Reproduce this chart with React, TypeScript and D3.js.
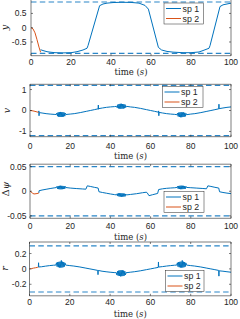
import React from 'react';
import * as d3 from 'd3';

type Pt = [number, number];

const TIME_TICKS = [0, 20, 40, 60, 80, 100];
const SERIES_NAMES = ['sp 1', 'sp 2'];
const COLORS = ['#0072BD', '#D95319'];

// Panel 1: y
const ySp1: Pt[] = [[4.8,-0.77],[6,-0.8],[8,-0.84],[10,-0.86],[12,-0.875],[16,-0.882],[20,-0.875],[23,-0.84],[26,-0.78],[28,-0.72],[28.5,-0.63],[34.3,0.77],[36,0.83],[38,0.86],[41,0.88],[45,0.89],[50,0.885],[54,0.86],[57,0.78],[58.7,0.65],[63.7,-0.69],[65.3,-0.78],[68,-0.83],[71,-0.855],[76,-0.875],[80,-0.875],[84,-0.85],[86,-0.8],[89,-0.72],[89.5,-0.63],[94.5,0.74],[96,0.8],[98,0.83],[100,0.86]];
const ySp2: Pt[] = [[0,0],[1,-0.04],[2,-0.18],[3,-0.42],[4,-0.68],[4.8,-0.86]];
const yBounds = [-0.9, 0.9];
const yTicks = [-0.5, 0, 0.5];

// Panel 2: v
const vSp1: Pt[] = [[4.3,-0.09],[4.4,-0.02],[4.5,-0.25],[4.6,-0.1],[6,-0.12],[8,-0.15],[10,-0.17],[12,-0.185],
[13.1,-0.19],[13.4,-0.12],[13.7,-0.27],[14.0,-0.09],[14.3,-0.3],[14.6,-0.08],[14.9,-0.31],[15.2,-0.07],[15.5,-0.31],[15.8,-0.08],[16.1,-0.3],[16.4,-0.08],[16.7,-0.29],[17.0,-0.1],[17.3,-0.27],[17.6,-0.13],[17.9,-0.19],
[20,-0.17],[22,-0.15],[25,-0.1],[28,-0.04],[30,0],[32,0.04],[33.9,0.08],[34,0.26],[34.1,0.06],[34.2,0.09],[36,0.12],[38,0.15],[40,0.17],[42,0.185],
[43.1,0.2],[43.4,0.13],[43.7,0.28],[44.0,0.1],[44.3,0.31],[44.6,0.09],[44.9,0.32],[45.2,0.08],[45.5,0.32],[45.8,0.09],[46.1,0.31],[46.4,0.09],[46.7,0.3],[47.0,0.11],[47.3,0.28],[47.6,0.14],[47.9,0.2],
[50,0.17],[52,0.15],[55,0.1],[58,0.04],[60,0],[62,-0.04],[63.9,-0.08],[64,-0.02],[64.1,-0.25],[64.2,-0.09],[66,-0.12],[68,-0.15],[70,-0.17],[72,-0.185],
[73.1,-0.2],[73.4,-0.13],[73.7,-0.28],[74.0,-0.1],[74.3,-0.31],[74.6,-0.09],[74.9,-0.32],[75.2,-0.08],[75.5,-0.32],[75.8,-0.09],[76.1,-0.31],[76.4,-0.09],[76.7,-0.3],[77.0,-0.11],[77.3,-0.28],[77.6,-0.14],[77.9,-0.2],
[80,-0.17],[82,-0.15],[85,-0.1],[88,-0.04],[90,0],[92,0.04],[93.9,0.08],[94,0.3],[94.1,0.07],[94.2,0.09],[96,0.12],[98,0.15],[100,0.17]];
const vSp2: Pt[] = [[0,0],[1,-0.01],[2,-0.03],[3,-0.055],[4.3,-0.09]];
const vBounds = [-1.2, 1.2];
const vTicks = [-1, 0, 1];

// Panel 3: delta psi
const dpsiSp1: Pt[] = [[4.4,-0.0035],[4.5,0.001],[6,0.0025],[8,0.004],[10,0.0055],[12,0.0068],
[13.1,0.0075],[13.4,0.0098],[13.7,0.005],[14.0,0.0106],[14.3,0.0043],[14.6,0.011],[14.9,0.004],[15.2,0.0112],[15.5,0.004],[15.8,0.011],[16.1,0.0042],[16.4,0.0108],[16.7,0.0045],[17.0,0.0104],[17.3,0.005],[17.6,0.0097],[17.9,0.0075],
[20,0.0065],[23,0.0055],[26,0.0047],[27.8,0.0042],[28.5,0.011],[30,0.0098],[32,0.008],[33.9,0.0065],[34.3,-0.001],[36,-0.0025],[38,-0.004],[40,-0.0055],[42,-0.0068],
[43.1,-0.0075],[43.4,-0.005],[43.7,-0.0098],[44.0,-0.0043],[44.3,-0.0106],[44.6,-0.004],[44.9,-0.011],[45.2,-0.004],[45.5,-0.0112],[45.8,-0.0042],[46.1,-0.011],[46.4,-0.0045],[46.7,-0.0108],[47.0,-0.005],[47.3,-0.0104],[47.6,-0.0055],[47.9,-0.0075],
[50,-0.0065],[53,-0.005],[56,-0.003],[57.8,-0.002],[58.3,-0.003],[59.2,-0.009],[61,-0.007],[63.5,-0.0045],[64,0.0035],[66,0.005],[68,0.006],[70,0.0066],[72,0.0071],
[73.1,0.0077],[73.4,0.01],[73.7,0.0052],[74.0,0.0108],[74.3,0.0045],[74.6,0.0112],[74.9,0.0042],[75.2,0.0114],[75.5,0.0042],[75.8,0.0112],[76.1,0.0044],[76.4,0.011],[76.7,0.0047],[77.0,0.0106],[77.3,0.0052],[77.6,0.0099],[77.9,0.0077],
[80,0.0072],[83,0.0064],[86,0.0056],[87.8,0.005],[88.5,0.011],[90,0.0098],[92,0.008],[93.9,0.0065],[94.3,-0.001],[96,-0.0025],[98,-0.0038],[100,-0.0048]];
const dpsiSp2: Pt[] = [[0,0],[0.5,-0.001],[1.2,-0.004],[2,-0.0055],[3,-0.005],[4,-0.0042],[4.4,-0.0035]];
const dpsiBounds = [-0.05, 0.05];
const dpsiTicks = [-0.05, 0, 0.05];

// Panel 4: r
const rSp1: Pt[] = [[4.4,0.022],[4.5,0.08],[4.6,0.025],[6,0.028],[8,0.036],[10,0.043],[12,0.048],
[13.1,0.05],[13.4,0.08],[13.7,0.03],[14.0,0.088],[14.3,0.022],[14.6,0.092],[14.9,0.018],[15.2,0.095],[15.5,0.017],[15.8,0.11],[16.1,0.018],[16.4,0.093],[16.7,0.022],[17.0,0.088],[17.3,0.03],[17.6,0.078],[17.9,0.05],
[20,0.043],[22,0.037],[25,0.025],[28,0.01],[30,0],[32,-0.01],[33.9,-0.02],[34,-0.075],[34.1,-0.02],[36,-0.03],[38,-0.037],[40,-0.043],[42,-0.048],
[43.1,-0.05],[43.4,-0.08],[43.7,-0.03],[44.0,-0.088],[44.3,-0.022],[44.6,-0.092],[44.9,-0.018],[45.2,-0.097],[45.5,-0.017],[45.8,-0.095],[46.1,-0.018],[46.4,-0.093],[46.7,-0.022],[47.0,-0.088],[47.3,-0.03],[47.6,-0.078],[47.9,-0.05],
[50,-0.043],[52,-0.037],[55,-0.025],[58,-0.01],[60,0],[62,0.01],[63.9,0.02],[64,0.09],[64.1,0.024],[66,0.03],[68,0.037],[70,0.043],[72,0.048],
[73.1,0.05],[73.4,0.08],[73.7,0.03],[74.0,0.088],[74.3,0.022],[74.6,0.092],[74.9,0.018],[75.2,0.095],[75.5,0.017],[75.8,0.11],[76.1,0.018],[76.4,0.093],[76.7,0.022],[77.0,0.088],[77.3,0.03],[77.6,0.078],[77.9,0.05],
[80,0.043],[82,0.037],[85,0.025],[88,0.01],[90,0],[92,-0.01],[93.9,-0.02],[94,-0.094],[94.1,-0.025],[96,-0.03],[98,-0.037],[100,-0.043]];
const rSp2: Pt[] = [[0,0],[1,0.004],[2,0.01],[3,0.015],[4,0.02],[4.4,0.022]];
const rBounds = [-0.3, 0.3];
const rTicks = [-0.2, 0, 0.2];

const AX = '#262626';
const SANS = '"Liberation Sans", Arial, sans-serif';
const SERIF = '"DejaVu Serif", serif';

interface PanelCfg {
  key: string;
  sp1: Pt[]; sp2: Pt[];
  bounds: number[]; ticks: number[];
  domain: [number, number];
  top: number; bottom: number; left: number; right: number;
  tickLabelY: number; timeY: number;
  ylab: React.ReactNode; ylabX: number; ylabY: number;
  legX: number; legY: number; legW: number;
  drawTop: boolean;
}

const panels: PanelCfg[] = [
  { key: 'y', sp1: ySp1, sp2: ySp2, bounds: yBounds, ticks: yTicks, domain: [-0.98, 0.98],
    top: -0.3, bottom: 55.7, left: 31, right: 231, tickLabelY: 62.3, timeY: 72.5,
    ylab: <tspan fontStyle="italic">y</tspan>, ylabX: 5, ylabY: 27.5,
    legX: 164, legY: 3, legW: 39.5, drawTop: false },
  { key: 'v', sp1: vSp1, sp2: vSp2, bounds: vBounds, ticks: vTicks, domain: [-1.25, 1.25],
    top: 84.3, bottom: 136.7, left: 30, right: 231, tickLabelY: 146, timeY: 156.5,
    ylab: <tspan fontStyle="italic">v</tspan>, ylabX: 6.5, ylabY: 110.5,
    legX: 162.5, legY: 86.5, legW: 40.5, drawTop: true },
  { key: 'dpsi', sp1: dpsiSp1, sp2: dpsiSp2, bounds: dpsiBounds, ticks: dpsiTicks, domain: [-0.055, 0.055],
    top: 164.2, bottom: 218.3, left: 30, right: 231, tickLabelY: 226, timeY: 237,
    ylab: <><tspan>Δ</tspan><tspan fontStyle="italic">ψ</tspan></>, ylabX: 5.5, ylabY: 189,
    legX: 164, legY: 191.5, legW: 40, drawTop: true },
  { key: 'r', sp1: rSp1, sp2: rSp2, bounds: rBounds, ticks: rTicks, domain: [-0.35, 0.35],
    top: 242, bottom: 295.8, left: 29.5, right: 231, tickLabelY: 301.8, timeY: 314.5,
    ylab: <tspan fontStyle="italic">r</tspan>, ylabX: 5, ylabY: 268.5,
    legX: 165.5, legY: 270.5, legW: 38.5, drawTop: true },
];

const fmt = (v: number) => (v === 0 ? '0' : String(v));

function Panel({ p }: { p: PanelCfg }) {
  const x = d3.scaleLinear().domain([0, 100]).range([p.left, p.right]);
  const y = d3.scaleLinear().domain(p.domain).range([p.bottom, p.top]);
  const line = d3.line<Pt>().x(d => x(d[0])).y(d => y(d[1]));
  const tl = 2;
  return (
    <g>
      {p.bounds.map((b, i) => (
        <line key={'b' + i} x1={x(0)} x2={x(100)} y1={y(b)} y2={y(b)}
          stroke="#2a86c8" strokeWidth={1.1} strokeDasharray="5.5,3.3" />
      ))}
      <path d={line(p.sp1) || ''} fill="none" stroke={COLORS[0]} strokeWidth={1} strokeLinejoin="round" />
      <path d={line(p.sp2) || ''} fill="none" stroke={COLORS[1]} strokeWidth={1} strokeLinejoin="round" />
      <line x1={p.left} x2={p.right} y1={p.bottom} y2={p.bottom} stroke={AX} strokeWidth={0.6} />
      <line x1={p.left} x2={p.left} y1={p.top} y2={p.bottom} stroke={AX} strokeWidth={0.6} />
      <line x1={p.right} x2={p.right} y1={p.top} y2={p.bottom} stroke={AX} strokeWidth={0.6} />
      {p.drawTop && <line x1={p.left} x2={p.right} y1={p.top} y2={p.top} stroke={AX} strokeWidth={0.6} />}
      {TIME_TICKS.map(t => (
        <g key={'xt' + t}>
          <line x1={x(t)} x2={x(t)} y1={p.bottom} y2={p.bottom - tl} stroke={AX} strokeWidth={0.6} />
          {p.drawTop && <line x1={x(t)} x2={x(t)} y1={p.top} y2={p.top + tl} stroke={AX} strokeWidth={0.6} />}
          <text x={x(t)} y={p.tickLabelY} dy="0.35em" textAnchor="middle" fontFamily={SANS} fontSize={8.5} fill={AX}>{t}</text>
        </g>
      ))}
      {p.ticks.map(v => (
        <g key={'yt' + v}>
          <line x1={p.left} x2={p.left + tl} y1={y(v)} y2={y(v)} stroke={AX} strokeWidth={0.6} />
          <line x1={p.right} x2={p.right - tl} y1={y(v)} y2={y(v)} stroke={AX} strokeWidth={0.6} />
          <text x={26.5} y={y(v)} dy="0.35em" textAnchor="end" fontFamily={SANS} fontSize={8.5} fill={AX}>{fmt(v)}</text>
        </g>
      ))}
      <text x={(p.left + p.right) / 2} y={p.timeY} dy="0.35em" textAnchor="middle" fontFamily={SERIF} fontSize={8.5} fill={AX}>
        time (<tspan fontStyle="italic">s</tspan>)
      </text>
      <text transform={`translate(${p.ylabX},${p.ylabY}) rotate(-90)`} dy="0.35em" textAnchor="middle" fontFamily={SERIF} fontSize={9.5} fill={AX}>
        {p.ylab}
      </text>
      <rect x={p.legX} y={p.legY} width={p.legW} height={21} fill="white" stroke={AX} strokeWidth={0.5} />
      {SERIES_NAMES.map((n, i) => (
        <g key={n}>
          <line x1={p.legX + 2} x2={p.legX + 17} y1={p.legY + 5.5 + i * 10} y2={p.legY + 5.5 + i * 10} stroke={COLORS[i]} strokeWidth={1} />
          <text x={p.legX + 18.5} y={p.legY + 5.5 + i * 10} dy="0.35em" fontFamily={SANS} fontSize={8.8} fill={AX}>{n}</text>
        </g>
      ))}
    </g>
  );
}

export default function App() {
  return (
    <>
      <style>{`body{margin:0;background:#fff}`}</style>
      <svg width={240} height={319} style={{ display: 'block' }}>
        <rect width={240} height={319} fill="white" />
        {panels.map(p => <Panel key={p.key} p={p} />)}
      </svg>
    </>
  );
}
